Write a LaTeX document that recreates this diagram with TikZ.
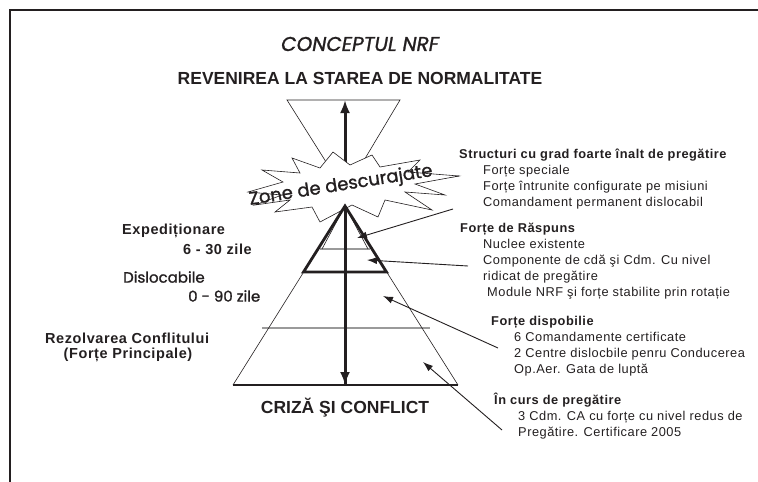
\documentclass[tikz,border=0pt]{standalone}
\usepackage{fontspec}
\setmainfont{Liberation Sans}
\newfontfamily\spaced{Liberation Sans}[LetterSpace=4]
\newfontfamily\geo{Poppins}[FakeBold=1.2]
\usetikzlibrary{arrows.meta}

\definecolor{ink}{HTML}{231F20}
\definecolor{midgray}{HTML}{9A9A9A}

\tikzset{
  thinln/.style={draw=ink, line width=0.6pt},
  thickln/.style={draw=ink, line width=2.8pt},
  grayln/.style={draw=midgray, line width=1.6pt},
  shaft/.style={draw=ink, line width=3pt, {Latex[length=13pt,width=10pt]}-{Latex[length=13pt,width=10pt]}},
  conn/.style={draw=ink, line width=0.9pt, -{Latex[length=10pt,width=7pt]}},
  bigbold/.style={text=ink, inner sep=0pt, font=\bfseries\fontsize{17.5}{20}\selectfont},
  lbl/.style={text=ink, inner sep=0pt, anchor=west, font=\spaced\bfseries\fontsize{14.5}{16}\selectfont},
  geolbl/.style={text=ink, inner sep=0pt, anchor=west, font=\geo\fontsize{15}{16}\selectfont},
  blk/.style={text=ink, inner sep=0pt, anchor=north west, align=left, font=\spaced\fontsize{12.8}{16}\selectfont}
}

\begin{document}
\begin{tikzpicture}[x=1pt, y=-1pt]
  \useasboundingbox (0,0) rectangle (758,482);

  % frame
  \draw[ink, line width=2.2pt] (10,482) -- (10,10) -- (758,10);

  % points of the figure
  \coordinate (ftl) at (287,100);
  \coordinate (ftr) at (400,100);
  \coordinate (fapex) at (345,192);
  \coordinate (toptip) at (345,100);
  \coordinate (bottip) at (345,385);
  \coordinate (apex) at (345,206);
  \coordinate (bl) at (233,385);
  \coordinate (br) at (458,385);
  \coordinate (tl) at (303.5,272);
  \coordinate (tr) at (386.5,272);
  \coordinate (il) at (322,249);
  \coordinate (ir) at (368,249);

  % funnel (normalitate)
  \draw[thinln] (fapex) -- (ftl) -- (ftr) -- cycle;

  % texts
  \node[font=\geo\itshape\fontsize{20}{22}\selectfont, text=ink, inner sep=0pt] (title) at (360,44) {CONCEPTUL NRF};
  \node[bigbold] (normal) at (360,78) {REVENIREA LA STAREA DE NORMALITATE};
  \node[bigbold] (criza) at (345,408) {CRIZĂ ŞI CONFLICT};

  \node[lbl] (exped) at (122,231) {Expediționare};
  \node[lbl] (expzile) at (183,249) {6 - 30 zile};
  \node[geolbl] (disl) at (123,277) {Dislocabile};
  \node[geolbl] (dislzile) at (188,296) {0 - 90 zile};
  \node[lbl] (rezolv) at (45,338) {Rezolvarea Conflitului};
  \node[lbl, anchor=center] (princ) at (128,355) {(Forțe Principale)};

  \node[blk] (structuri) at (459,149) {\textbf{Structuri cu grad foarte înalt de pregătire}\\
    \hspace*{24pt}Forțe speciale\\
    \hspace*{24pt}Forțe întrunite configurate pe misiuni\\
    \hspace*{24pt}Comandament permanent dislocabil};
  \node[blk] (raspuns) at (460,223) {\textbf{Forțe de Răspuns}\\
    \hspace*{23pt}Nuclee existente\\
    \hspace*{23pt}Componente de cdă şi Cdm. Cu nivel\\
    \hspace*{23pt}ridicat de pregătire\\
    \hspace*{27pt}Module NRF şi forțe stabilite prin rotație};
  \node[blk] (disponibile) at (491,316) {\textbf{Forțe dispobilie}\\
    \hspace*{23pt}6 Comandamente certificate\\
    \hspace*{23pt}2 Centre dislocbile penru Conducerea\\
    \hspace*{23pt}Op.Aer. Gata de luptă};
  \node[blk] (curs) at (494,393) {\textbf{În curs de pregătire}\\
    \hspace*{24pt}3 Cdm. CA cu forțe cu nivel redus de\\
    \hspace*{24pt}Pregătire. Certificare 2005};

  % connector ends
  \coordinate (c1s) at (459,176);
  \coordinate (c1e) at (395,184);
  \coordinate (c2s) at (453,209);
  \coordinate (c2e) at (357,238);
  \coordinate (c3s) at (468,266);
  \coordinate (c3e) at (367,260);
  \coordinate (c4s) at (498,348);
  \coordinate (c4e) at (383,296);
  \coordinate (c5s) at (502,430);
  \coordinate (c5e) at (423,362);

  \draw[conn] (c1s) -- (c1e);
  \draw[shaft] (bottip) -- (toptip);

  % starburst
  \draw[thinln, fill=white] (248,192) -- (283,182) -- (262,170) -- (300,173) -- (292,158)
    -- (320,168) -- (333,152) -- (350,165) -- (372,155) -- (380,167) -- (420,160)
    -- (408,172) -- (459,176) -- (415,184) -- (445,195) -- (405,192) -- (432,210)
    -- (385,200) -- (378,217) -- (352,205) -- (320,222) -- (312,207) -- (275,212)
    -- (290,200) -- (255,205) -- (282,195) -- cycle;
  \node[font=\geo\fontsize{18}{19}\selectfont, text=ink, rotate=9, inner sep=0pt] (zone) at (341,186) {Zone de descurajate};

  % pyramid
  \draw[grayln] (262,328) -- (430,328);
  \draw[grayln] (320,249) -- (370,249);
  \draw[thinln] (bl) -- (apex) -- (br);
  \draw[thinln] (il) -- (apex) -- (ir);
  \draw[thickln, line join=miter] (tl) -- (apex) -- (tr) -- cycle;
  \draw[thickln] (bl) -- (br);
  \draw[draw=ink, line width=3pt] (apex) -- (bottip);

  \draw[conn] (c2s) -- (c2e);
  \draw[conn] (c3s) -- (c3e);
  \draw[conn] (c4s) -- (c4e);
  \draw[conn] (c5s) -- (c5e);
\end{tikzpicture}
\end{document}
